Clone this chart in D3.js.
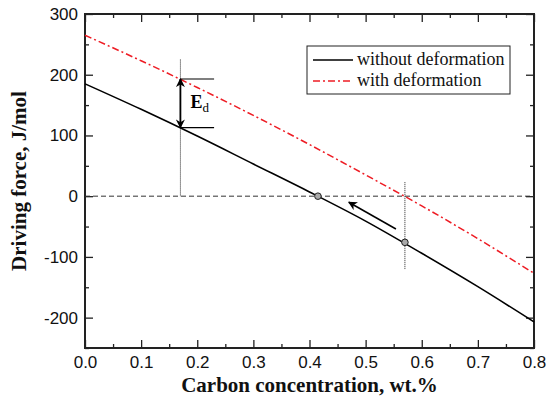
<!DOCTYPE html>
<html>
<head>
<meta charset="utf-8" />
<title>Driving force</title>
<script src="https://cdn.jsdelivr.net/npm/d3@7"></script>
<style>
body { margin:0; background:#fff; }
.tick text { font-family: "Liberation Sans", Arial, sans-serif; font-size:17px; fill:#111; }
.axis path { display:none; }
.axis line { stroke:#222; stroke-width:1.3px; }
.title { font-family: "Liberation Serif", "Times New Roman", serif; font-weight:bold; font-size:21px; fill:#111; }
.leg { font-family: "Liberation Serif", "Times New Roman", serif; font-size:18px; fill:#111; }
</style>
</head>
<body>
<svg id="chart" width="549" height="401"></svg>
<script>
// data
var carbon = [0, 0.1, 0.2, 0.3, 0.4, 0.5, 0.6, 0.7, 0.8];
var withoutDef = [185, 143, 99, 53, 7, -41, -94, -149, -207];
var withDef = [265, 223, 179, 133, 85, 35, -16, -70, -127];
var xTicks = [0, 0.1, 0.2, 0.3, 0.4, 0.5, 0.6, 0.7, 0.8];
var yTicks = [-200, -100, 0, 100, 200, 300];
var seriesNames = ["without deformation", "with deformation"];
var points = [[0.415, 0], [0.57, -76]];
var edX = 0.17, edTop = 193, edBot = 113, edEnd = 0.23;
var guide1 = [0.17, 225, 0], guide2 = [0.57, 23, -120];
var shiftArrow = [[0.554, -54], [0.47, -10]];

var margin = {top: 14, right: 15, bottom: 53, left: 85},
    width = 549 - margin.left - margin.right,
    height = 401 - margin.top - margin.bottom;

var svg = d3.select("#chart");
var g = svg.append("g").attr("transform", "translate(" + margin.left + "," + margin.top + ")");

var x = d3.scaleLinear().domain([0, 0.8]).range([0, width]);
var y = d3.scaleLinear().domain([-250, 300]).range([height, 0]);

var defs = svg.append("defs");
defs.append("marker").attr("id", "ah").attr("viewBox", "0 0 10 10")
    .attr("refX", 9).attr("refY", 5).attr("markerWidth", 9).attr("markerHeight", 9)
    .attr("markerUnits", "userSpaceOnUse").attr("orient", "auto-start-reverse")
  .append("path").attr("d", "M0,0L10,5L0,10L3,5Z").attr("fill", "#000");

// minor ticks
var xMinor = d3.range(0.05, 0.8, 0.1);
var yMinor = d3.range(-250, 300, 100);
var yFmt = function(d){ return d < 0 ? "-" + Math.abs(d) : "" + d; };

function axes(sel, axis, tr) {
  sel.append("g").attr("class", "axis").attr("transform", tr).call(axis);
}
axes(g, d3.axisBottom(x).tickValues(xTicks).tickSize(-8).tickPadding(8).tickFormat(d3.format(".1f")), "translate(0," + height + ")");
axes(g, d3.axisBottom(x).tickValues(xMinor).tickSize(-4).tickFormat(""), "translate(0," + height + ")");
axes(g, d3.axisTop(x).tickValues(xTicks).tickSize(-8).tickFormat(""), "translate(0,0)");
axes(g, d3.axisTop(x).tickValues(xMinor).tickSize(-4).tickFormat(""), "translate(0,0)");
axes(g, d3.axisLeft(y).tickValues(yTicks).tickSize(-8).tickPadding(7).tickFormat(yFmt), "translate(0,0)");
axes(g, d3.axisLeft(y).tickValues(yMinor).tickSize(-4).tickFormat(""), "translate(0,0)");
axes(g, d3.axisRight(y).tickValues(yTicks).tickSize(-8).tickFormat(""), "translate(" + width + ",0)");
axes(g, d3.axisRight(y).tickValues(yMinor).tickSize(-4).tickFormat(""), "translate(" + width + ",0)");

g.append("rect").attr("width", width).attr("height", height)
  .attr("fill", "none").attr("stroke", "#222").attr("stroke-width", 2);

// zero line
g.append("line").attr("x1", 0).attr("x2", width).attr("y1", y(0)).attr("y2", y(0))
  .attr("stroke", "#333").attr("stroke-width", 1).attr("stroke-dasharray", "5,3");

// guides
[guide1, guide2].forEach(function(gd) {
  g.append("line").attr("x1", x(gd[0])).attr("x2", x(gd[0])).attr("y1", y(gd[1])).attr("y2", y(gd[2]))
    .attr("stroke", "#222").attr("stroke-width", 1).attr("stroke-dasharray", "1,1");
});

var line = d3.line().x(function(d, i){ return x(carbon[i]); }).y(function(d){ return y(d); }).curve(d3.curveMonotoneX);
g.append("path").attr("d", line(withDef)).attr("fill", "none")
  .attr("stroke", "#ee1c24").attr("stroke-width", 1.5).attr("stroke-dasharray", "7,3,2,3");
g.append("path").attr("d", line(withoutDef)).attr("fill", "none")
  .attr("stroke", "#000").attr("stroke-width", 1.6);

// E_d annotation
[edTop, edBot].forEach(function(v) {
  g.append("line").attr("x1", x(edX)).attr("x2", x(edEnd)).attr("y1", y(v)).attr("y2", y(v))
    .attr("stroke", "#000").attr("stroke-width", 1.2);
});
g.append("line").attr("x1", x(edX)).attr("x2", x(edX)).attr("y1", y(edTop)).attr("y2", y(edBot))
  .attr("stroke", "#000").attr("stroke-width", 1.8)
  .attr("marker-start", "url(#ah)").attr("marker-end", "url(#ah)");
var ed = g.append("text").attr("x", x(edX) + 10).attr("y", y((edTop + edBot) / 2) + 5)
  .attr("font-family", "Liberation Serif, serif").attr("font-size", 18).attr("font-weight", "bold");
ed.append("tspan").text("E");
ed.append("tspan").attr("dy", 4).attr("font-size", 13).attr("font-weight", "normal").text("d");

// shift arrow
g.append("line").attr("x1", x(shiftArrow[0][0])).attr("y1", y(shiftArrow[0][1]))
  .attr("x2", x(shiftArrow[1][0])).attr("y2", y(shiftArrow[1][1]))
  .attr("stroke", "#000").attr("stroke-width", 1.5).attr("marker-end", "url(#ah)");

g.selectAll("circle.pt").data(points).enter().append("circle").attr("class", "pt")
  .attr("cx", function(d){ return x(d[0]); }).attr("cy", function(d){ return y(d[1]); })
  .attr("r", 3.3).attr("fill", "#aaa").attr("stroke", "#222").attr("stroke-width", 1);

// legend
var lg = g.append("g").attr("transform", "translate(" + (307 - margin.left) + "," + (46 - margin.top) + ")");
lg.append("rect").attr("width", 203).attr("height", 48).attr("fill", "#fff").attr("stroke", "#222").attr("stroke-width", 1);
var legStyles = [["#000", null], ["#ee1c24", "7,3,2,3"]];
seriesNames.forEach(function(n, i) {
  var yy = 14 + i * 21;
  lg.append("line").attr("x1", 6).attr("x2", 46).attr("y1", yy).attr("y2", yy)
    .attr("stroke", legStyles[i][0]).attr("stroke-width", 1.5).attr("stroke-dasharray", legStyles[i][1]);
  lg.append("text").attr("class", "leg").attr("x", 50).attr("y", yy + 5).text(n);
});

// axis titles
svg.append("text").attr("class", "title").attr("text-anchor", "middle")
  .attr("x", margin.left + width / 2).attr("y", 392).text("Carbon concentration, wt.%");
svg.append("text").attr("class", "title").attr("text-anchor", "middle")
  .attr("transform", "translate(26," + (margin.top + height / 2) + ") rotate(-90)")
  .text("Driving force, J/mol");
</script>
</body>
</html>
